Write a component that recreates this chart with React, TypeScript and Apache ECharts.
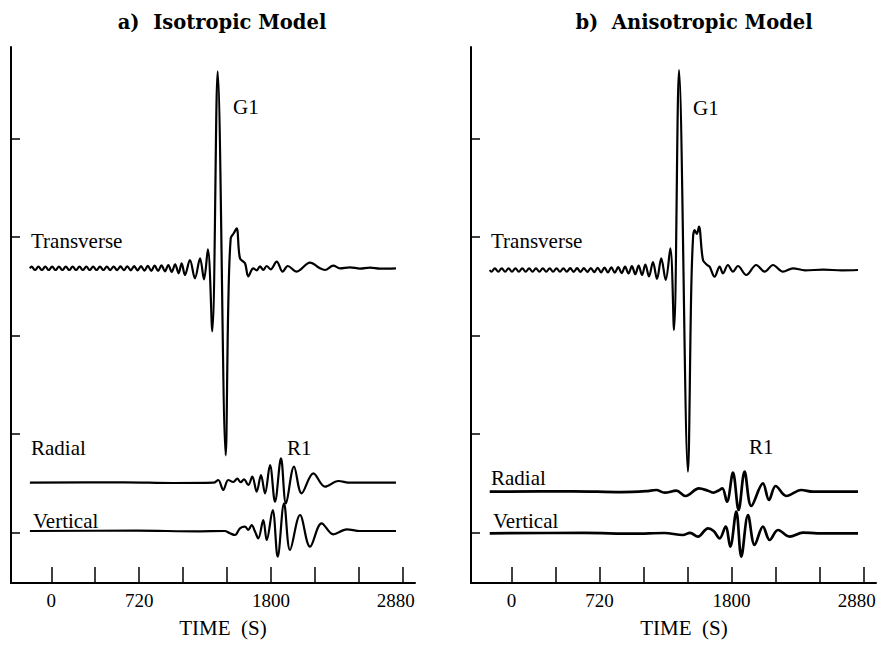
import React, { useEffect, useRef } from "react";
import * as echarts from "echarts";

// ---- axis values ----
const X_MIN = -330;
const X_MAX = 2980;
const X_TICKS = [0, 360, 720, 1080, 1440, 1800, 2160, 2520, 2880];
const X_LABELS = [0, 720, 1800, 2880];
const Y_MIN = 0;
const Y_MAX = 536;
const Y_TICKS = [50, 149, 247, 346, 444];

// ---- trace baselines (vertical offsets of each seismogram) ----
const ISO_T_OFFSET = 314.7;
const ISO_R_OFFSET = 100.3;
const ISO_V_OFFSET = 52;
const ANI_T_OFFSET = 313;
const ANI_R_OFFSET = 91.3;
const ANI_V_OFFSET = 49.7;

// ---- a) Isotropic model: [time (s), amplitude] ----
const isoTransverse: [number, number][] = [
  [-175, 0], [-161, 1.7], [-133, -1.7], [-105, 1.7], [-77, -1.7], [-49, 1.7], [-21, -1.7], [7, 1.7],
  [35, -1.7], [63, 1.7], [91, -1.7], [119, 1.7], [147, -1.7], [175, 1.7], [203, -1.7], [231, 1.7],
  [259, -1.7], [287, 1.7], [315, -1.7], [343, 1.7], [371, -1.7], [399, 1.7], [427, -1.7], [455, 1.7],
  [483, -1.8], [511, 1.8], [539, -1.8], [567, 1.9], [595, -1.9], [623, 2], [651, -2], [679, 2.1],
  [707, -2.1], [735, 2.2], [763, -2.3], [791, 2.4], [819, -2.5], [847, 2.6], [875, -2.7], [903, 2.9],
  [931, -3.1], [959, 3.3], [987, -3.6], [1015, 4], [1043, -5], [1068, 5], [1095, -6.7], [1136, 8.3],
  [1177, -10], [1219, 10], [1251, -11], [1283, 19], [1319, -63], [1363, 197], [1429, -187],
  [1450, -38], [1470, 30], [1495, 35], [1519, 40], [1546, 10], [1587, 5], [1614, -8], [1655, 0],
  [1683, -2], [1710, 2], [1737, -1.7], [1765, 2.3], [1797, -1], [1847, 6.7], [1896, -3.3],
  [1937, 2.3], [2011, -3.3], [2120, 5.7], [2201, 0], [2243, -1.7], [2310, 2.7], [2365, 0],
  [2447, 1], [2529, -0.3], [2611, 0.7], [2693, -0.3], [2824, 0],
];

const isoRadial: [number, number][] = [
  [-175, 0], [600, 0.3], [1000, -0.3], [1330, 0], [1368, 2.7], [1409, -7.3], [1450, 2.7],
  [1491, 0.7], [1524, 4], [1552, 0.5], [1579, 3.3], [1614, -2.3], [1647, 6], [1683, -9],
  [1718, 7.7], [1751, -10.7], [1792, 17.7], [1833, -19], [1882, 24.3], [1923, -20.7],
  [1989, 16], [2051, -10.7], [2147, 9.3], [2243, -4], [2352, 1.7], [2447, 0], [2824, 0],
];

const isoVertical: [number, number][] = [
  [-175, 0], [700, 0.3], [1200, -0.3], [1420, 0], [1464, -2.3], [1505, -4], [1546, 2.7],
  [1587, 4.3], [1614, 1], [1642, 6], [1669, -0.5], [1696, -7.3], [1737, 11], [1765, -9],
  [1814, 21], [1855, -25.7], [1907, 27.7], [1956, -19], [2038, 16], [2120, -15.7],
  [2215, 7.7], [2310, -3.3], [2420, 1.7], [2529, 0], [2824, 0],
];

// ---- b) Anisotropic model: [time (s), amplitude] ----
const aniTransverse: [number, number][] = [
  [-177, 0], [-163, -1.7], [-135, 1.7], [-107, -1.7], [-79, 1.7], [-51, -1.7], [-23, 1.7], [5, -1.7],
  [33, 1.7], [61, -1.7], [89, 1.7], [117, -1.7], [145, 1.7], [173, -1.7], [201, 1.7], [229, -1.7],
  [257, 1.7], [285, -1.7], [313, 1.7], [341, -1.7], [369, 1.7], [397, -1.7], [425, 1.7], [453, -1.7],
  [481, 1.8], [509, -1.8], [537, 1.8], [565, -1.9], [593, 1.9], [621, -2], [649, 2], [677, -2.1],
  [705, 2.2], [733, -2.3], [761, 2.4], [789, -2.5], [817, 2.6], [845, -2.7], [873, 2.9], [901, -3.1],
  [929, 3.3], [957, -3.5], [985, 3.8], [1013, -4.2], [1040, 4.5], [1068, -5], [1095, 5.5],
  [1125, -6.5], [1157, 8], [1190, -9], [1225, 11.7], [1261, -10], [1299, 21.7], [1329, -60],
  [1370, 200], [1443, -201.7], [1470, -20], [1485, 33], [1498, 40], [1515, 36], [1533, 43.3],
  [1566, 10], [1600, 5], [1620, 3.3], [1661, -6.7], [1702, 3.3], [1729, -3.3], [1770, 5],
  [1811, -1.7], [1852, 4], [1920, -5], [2001, 5], [2070, -1.7], [2138, 5], [2220, -1.7],
  [2301, 1.7], [2400, -0.3], [2550, 0.3], [2700, -0.3], [2833, 0],
];

const aniRadial: [number, number][] = [
  [-177, 0], [500, 0.4], [900, -0.4], [1100, 0.5], [1184, 1.7], [1253, -1], [1348, 1],
  [1424, -4.3], [1533, 3.3], [1607, 1], [1653, -1], [1690, 1], [1724, 3.3], [1762, -10],
  [1811, 19], [1857, -18.3], [1906, 20], [1961, -14.3], [2056, 8.3], [2105, -8.3],
  [2160, 5.7], [2247, -4.3], [2369, 1.7], [2465, 0], [2833, 0],
];

const aniVertical: [number, number][] = [
  [-177, 0], [600, 0.4], [1000, -0.4], [1250, 0.3], [1402, -1.7], [1460, 0.5], [1525, -3.3],
  [1607, 5], [1653, 2.3], [1702, -5], [1751, 6.7], [1789, -13.3], [1838, 21.7],
  [1879, -23.3], [1934, 18.3], [1988, -11.7], [2056, 6.7], [2111, -6.7], [2179, 3.3],
  [2274, -3.3], [2383, 0.7], [2500, 0], [2833, 0],
];

// ---- texts ----
const TITLES = ["a)  Isotropic Model", "b)  Anisotropic Model"];
const TRACE_NAMES = ["Transverse", "Radial", "Vertical"];
const PHASES = ["G1", "R1"];
const X_NAME = "TIME  (S)";

const SERIF = '"Liberation Serif", "Times New Roman", serif';

function shift(data: [number, number][], off: number) {
  return data.map(([t, a]) => [t, a + off]);
}

function txt(text: string, x: number, y: number, font: string, align = "left") {
  return {
    type: "text",
    x,
    y,
    silent: true,
    style: {
      text,
      font,
      fill: "#000",
      textAlign: align,
      align,
      textVerticalAlign: "middle",
      verticalAlign: "middle",
    },
  };
}

export default function App() {
  const ref = useRef<HTMLDivElement>(null);
  useEffect(() => {
    if (!ref.current) return;
    const chart = echarts.init(ref.current, null, { renderer: "svg" });
    const lastLabel = X_LABELS[X_LABELS.length - 1];

    const xAxis = (gi: number) => ({
      type: "value",
      gridIndex: gi,
      min: X_MIN,
      max: X_MAX,
      axisLine: { show: true, onZero: false, lineStyle: { color: "#000", width: 2 } },
      axisTick: {
        show: true,
        inside: true,
        length: 16,
        customValues: X_TICKS,
        lineStyle: { color: "#000", width: 1.5 },
      },
      axisLabel: {
        show: true,
        customValues: X_LABELS,
        formatter: (v: number) => (v === lastLabel ? "{m|" + String(v) + "}" : String(v)),
        rich: {
          m: { padding: [0, 14, 0, 0], fontFamily: SERIF, fontSize: 19, color: "#000" },
        },
        margin: 8,
        color: "#000",
        fontFamily: SERIF,
        fontSize: 19,
      },
      splitLine: { show: false },
    });
    const yAxis = (gi: number) => ({
      type: "value",
      gridIndex: gi,
      min: Y_MIN,
      max: Y_MAX,
      axisLine: { show: true, onZero: false, lineStyle: { color: "#000", width: 2 } },
      axisTick: {
        show: true,
        inside: true,
        length: 9,
        customValues: Y_TICKS,
        lineStyle: { color: "#000", width: 1.5 },
      },
      axisLabel: { show: false },
      splitLine: { show: false },
    });
    const line = (data: number[][], gi: number, width: number) => ({
      type: "line",
      xAxisIndex: gi,
      yAxisIndex: gi,
      data,
      showSymbol: false,
      smooth: 0.35,
      lineStyle: { color: "#000", width },
      silent: true,
    });

    const titleFont = 'bold 19.5px "DejaVu Serif", serif';
    const labFont = "21px " + SERIF;

    chart.setOption({
      animation: false,
      backgroundColor: "#fff",
      grid: [
        { left: 11, right: 471, top: 47, bottom: 68 },
        { left: 471, right: 10, top: 47, bottom: 68 },
      ],
      xAxis: [xAxis(0), xAxis(1)],
      yAxis: [yAxis(0), yAxis(1)],
      series: [
        line(shift(isoTransverse, ISO_T_OFFSET), 0, 2.2),
        line(shift(isoRadial, ISO_R_OFFSET), 0, 2.2),
        line(shift(isoVertical, ISO_V_OFFSET), 0, 2.2),
        line(shift(aniTransverse, ANI_T_OFFSET), 1, 2.2),
        line(shift(aniRadial, ANI_R_OFFSET), 1, 2.7),
        line(shift(aniVertical, ANI_V_OFFSET), 1, 2.7),
      ],
      graphic: [
        txt(TITLES[0], 222, 22, titleFont, "center"),
        txt(TITLES[1], 694, 22, titleFont, "center"),
        txt(TRACE_NAMES[0], 31, 241, labFont),
        txt(TRACE_NAMES[1], 31, 448, labFont),
        txt(TRACE_NAMES[2], 33, 521, labFont),
        txt(PHASES[0], 233, 107, labFont),
        txt(PHASES[1], 287, 448, labFont),
        txt(TRACE_NAMES[0], 491, 241, labFont),
        txt(TRACE_NAMES[1], 491, 478, labFont),
        txt(TRACE_NAMES[2], 493, 521, labFont),
        txt(PHASES[0], 693, 108, labFont),
        txt(PHASES[1], 749, 447, labFont),
        txt(X_NAME, 223, 628, labFont, "center"),
        txt(X_NAME, 684, 628, labFont, "center"),
      ],
    });
    return () => chart.dispose();
  }, []);
  return (
    <div
      ref={ref}
      style={{ position: "fixed", left: 0, top: 0, width: 886, height: 651, background: "#fff" }}
    />
  );
}
